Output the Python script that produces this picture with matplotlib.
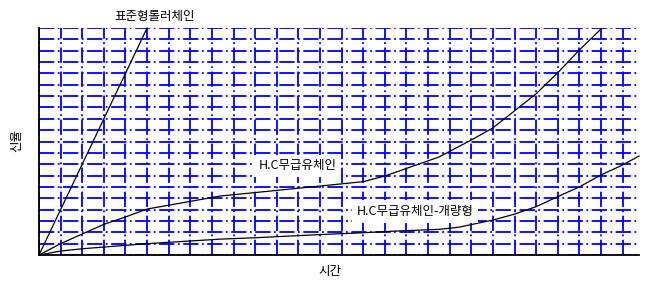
import matplotlib
matplotlib.use('Agg')
from matplotlib import pyplot as plt

plt.rcParams['font.family'] = ['Noto Sans CJK KR', 'DejaVu Sans']
plt.rcParams['lines.scale_dashes'] = False

# 표준형 롤러체인
x_std = [0, 5]
y_std = [0, 20]

# H.C 무급유체인
x_hc = [0, 1, 2, 3, 4, 5, 8.4, 10, 15, 16, 18.5, 20, 21, 22, 23, 24, 25, 26.05]
y_hc = [0, 1.0, 1.85, 2.7, 3.35, 4.05, 5.2, 5.5, 6.46, 6.96, 8.63, 10.13, 11.2,
        12.7, 14.2, 16.06, 18.06, 20.0]

# H.C 무급유체인-개량형
x_imp = [0, 1, 2, 3, 4, 5, 8.4, 10, 13, 15, 16.4, 18.5, 19.4, 21, 22, 23, 24,
         25, 26, 27, 27.76]
y_imp = [0, 0.35, 0.55, 0.7, 0.85, 1.0, 1.4, 1.52, 1.8, 1.96, 2.1, 2.26, 2.44,
         3.08, 3.6, 4.26, 5.14, 6.0, 7.05, 7.93, 8.72]

fig = plt.figure(figsize=(6.57, 2.85), dpi=100)
ax = fig.add_axes([39 / 657, 30 / 285, 600 / 657, 227 / 285])

x_max = 27.76
ax.set_xlim(0, x_max)
ax.set_ylim(0, 20)
ax.set_xticks(range(0, 28))
ax.set_yticks(range(0, 21))
ax.tick_params(length=0, labelbottom=False, labelleft=False)
ax.grid(True, color='#0000ff', linewidth=1.3, dashes=(11, 2.5, 1.3, 2.5))
ax.set_axisbelow(True)

for s in ['top', 'right']:
    ax.spines[s].set_visible(False)
for s in ['left', 'bottom']:
    ax.spines[s].set_color('black')
    ax.spines[s].set_linewidth(1.3)
    ax.spines[s].set_zorder(5)

ax.plot(x_std, y_std, color='black', linewidth=0.9, clip_on=False)
ax.plot(x_hc, y_hc, color='black', linewidth=0.9)
ax.plot(x_imp, y_imp, color='black', linewidth=0.9, clip_on=False)

box = dict(facecolor='white', edgecolor='none', pad=3.5)
ax.text(5.35, 21.0, '표준형롤러체인', fontsize=9, ha='center', va='center',
        clip_on=False)
ax.text(11.95, 7.85, 'H.C무급유체인', fontsize=9, ha='center', va='center',
        bbox=box, zorder=3)
ax.text(17.4, 3.85, 'H.C무급유체인-개량형', fontsize=9, ha='center',
        va='center', bbox=box, zorder=3)

fig.text(330 / 657, 1 - 272 / 285, '시간', fontsize=9, ha='center', va='center')
fig.text(17 / 657, 1 - 140 / 285, '신율', fontsize=9, ha='center', va='center',
         rotation=90)

fig.savefig('out.png', dpi=100, facecolor='white')
